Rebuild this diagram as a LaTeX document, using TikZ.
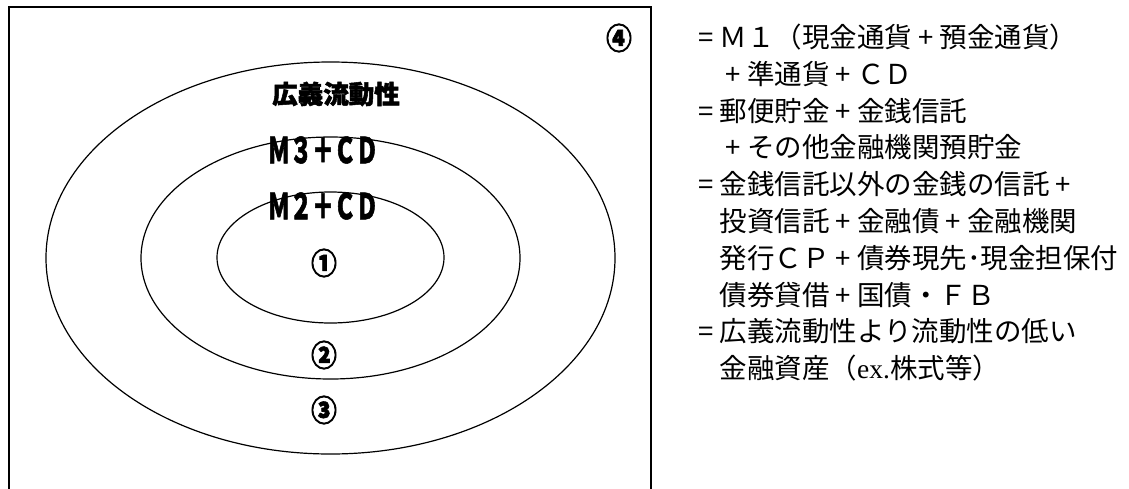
\documentclass[tikz,border=0pt]{standalone}
\usepackage{fontspec}
\newfontfamily\jp{Noto Sans CJK JP}
\newfontfamily\jph[BoldFeatures={FakeBold=2}]{Noto Sans CJK JP}
\newfontfamily\jpc[FakeStretch=0.62,BoldFeatures={FakeBold=1.5}]{Noto Sans CJK JP}
\newfontfamily\jpn[FakeStretch=0.85,BoldFeatures={FakeBold=2.5}]{Noto Sans CJK JP}
\newfontfamily\exfont{Liberation Serif}
\newcommand\jplus{\makebox[1em][c]{+}}
\newcommand\jeq{\makebox[1em][c]{=}}
\begin{document}
\begin{tikzpicture}[x=1pt,y=-1pt,
  ring/.style={draw=black,line width=1.2pt},
  frameline/.style={draw=black,line width=1.2pt},
  lbl/.style={inner sep=0pt,font=\jph\bfseries\fontsize{25.5}{30}\selectfont},
  lblc/.style={inner sep=0pt,font=\jpc\bfseries\fontsize{35.5}{38}\selectfont},
  num/.style={inner sep=0pt,font=\jpn\bfseries\fontsize{30}{32}\selectfont},
  desc/.style={inner sep=0pt,anchor=base west,font=\jp\fontsize{27.5}{33}\selectfont}]
\useasboundingbox (0,0) rectangle (1129,488);
\fill[white] (0,0) rectangle (1129,488);
% frame (bottom edge lies outside the picture)
\draw[frameline] (9,492) -- (9,7) -- (651,7) -- (651,492);
% rings
\draw[ring] (330.5,258) ellipse [x radius=284.5pt, y radius=196pt];
\draw[ring] (330.5,258) ellipse [x radius=189.5pt, y radius=121pt];
\draw[ring] (330.5,257.5) ellipse [x radius=113.5pt, y radius=65.5pt];
% labels in the rings
\node[lbl] (koigi) at (336,94) {広義流動性};
\node[lblc] (m3) at (323,150) {Ｍ３＋ＣＤ};
\node[lblc] (m2) at (323,206) {Ｍ２＋ＣＤ};
\node[num] (n1) at (324,263) {①};
\node[num] (n2) at (324,355) {②};
\node[num] (n3) at (324,410) {③};
\node[num] (n4) at (619,38) {④};
% description
\node[desc] (d1) at (692,47.5) {\jeq Ｍ１（現金通貨\jplus 預金通貨）};
\node[desc] (d2) at (719.5,84.3) {\jplus 準通貨\jplus ＣＤ};
\node[desc] (d3) at (692,121.1) {\jeq 郵便貯金\jplus 金銭信託};
\node[desc] (d4) at (719.5,157.9) {\jplus その他金融機関預貯金};
\node[desc] (d5) at (692,194.7) {\jeq 金銭信託以外の金銭の信託\jplus};
\node[desc] (d6) at (719.5,231.5) {投資信託\jplus 金融債\jplus 金融機関};
\node[desc] (d7) at (719.5,268.3) {発行ＣＰ\jplus 債券現先･現金担保付};
\node[desc] (d8) at (719.5,305.1) {債券貸借\jplus 国債・ＦＢ};
\node[desc] (d9) at (692,341.9) {\jeq 広義流動性より流動性の低い};
\node[desc] (d10) at (719.5,378.7) {金融資産（{\exfont ex.}株式等）};
\end{tikzpicture}
\end{document}
